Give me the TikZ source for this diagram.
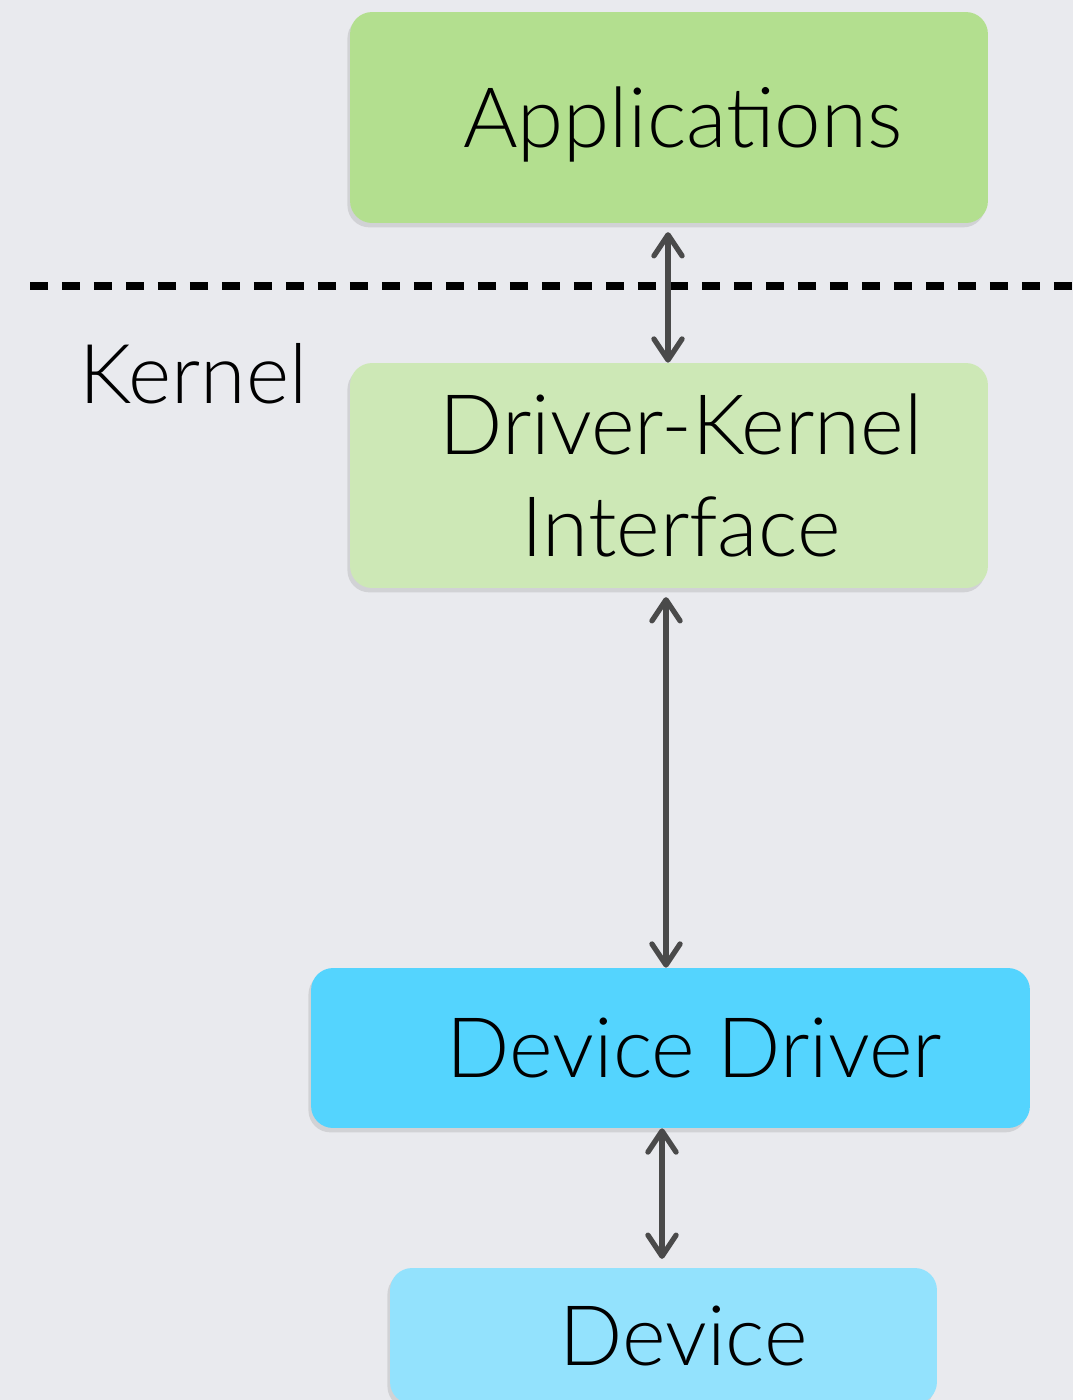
\documentclass[tikz,border=0pt]{standalone}
\usepackage{fontspec}
\setmainfont{Lato Light}
\usetikzlibrary{arrows.meta,shadows}

\definecolor{appgreen}{HTML}{B3DF8F}
\definecolor{kerngreen}{HTML}{CDE8B6}
\definecolor{drvblue}{HTML}{54D4FE}
\definecolor{devblue}{HTML}{93E2FD}
\definecolor{bggray}{HTML}{E9EAEE}
\definecolor{arrowgray}{HTML}{4A4A4A}

\begin{document}
\begin{tikzpicture}[x=0.02cm,y=-0.02cm,
  layer/.style={rounded corners=0.44cm,align=center,inner sep=0pt,
    font=\fontsize{47.5}{58}\selectfont,
    drop shadow={shadow xshift=-1.5pt,shadow yshift=-2.5pt,opacity=.22}},
  nudge/.style={execute at begin node={\hspace*{#1}}},
  link/.style={{Straight Barb[length=12pt,width=16pt,round]}-{Straight Barb[length=12pt,width=16pt,round]},
    line width=3pt,color=arrowgray,line cap=round}]
  \useasboundingbox[fill=bggray] (0,0) rectangle (1073,1400);
  % user space / kernel boundary
  \coordinate (userleft) at (30,286);
  \coordinate (userright) at (1085,286);
  \draw[line width=4.5pt,dash pattern=on 0.36cm off 0.28cm] (userleft) -- (userright);
  \node[anchor=base,font=\fontsize{47}{56}\selectfont] (kernel) at (193.5,403) {Kernel};
  % layers
  \node[layer,fill=appgreen,minimum width=12.76cm,minimum height=4.22cm,
    text depth=0pt,nudge=0.56cm] (app) at (669,117.5) {Applications};
  \node[layer,fill=kerngreen,minimum width=12.76cm,minimum height=4.5cm] (dki) at (669,475.5)
    {\hspace*{0.48cm}Driver-Kernel\\\hspace*{0.48cm}Interface};
  \node[layer,fill=drvblue,minimum width=14.38cm,minimum height=3.2cm,nudge=0.96cm] (drv)
    at (670.5,1048) {Device Driver};
  \node[layer,fill=devblue,minimum width=10.94cm,minimum height=2.72cm,nudge=0.8cm] (dev)
    at (663.5,1336) {Device};
  % connections
  \draw[link,shorten <=5pt] ([xshift=-0.02cm]app.south) -- ([xshift=-0.02cm]app.south |- dki.north);
  \draw[link,shorten <=5pt] ([xshift=-0.06cm]dki.south) -- ([xshift=-0.06cm]dki.south |- drv.north);
  \draw[link,shorten >=5pt] ([xshift=-0.17cm]drv.south) -- ([xshift=-0.17cm]drv.south |- dev.north);
\end{tikzpicture}
\end{document}
